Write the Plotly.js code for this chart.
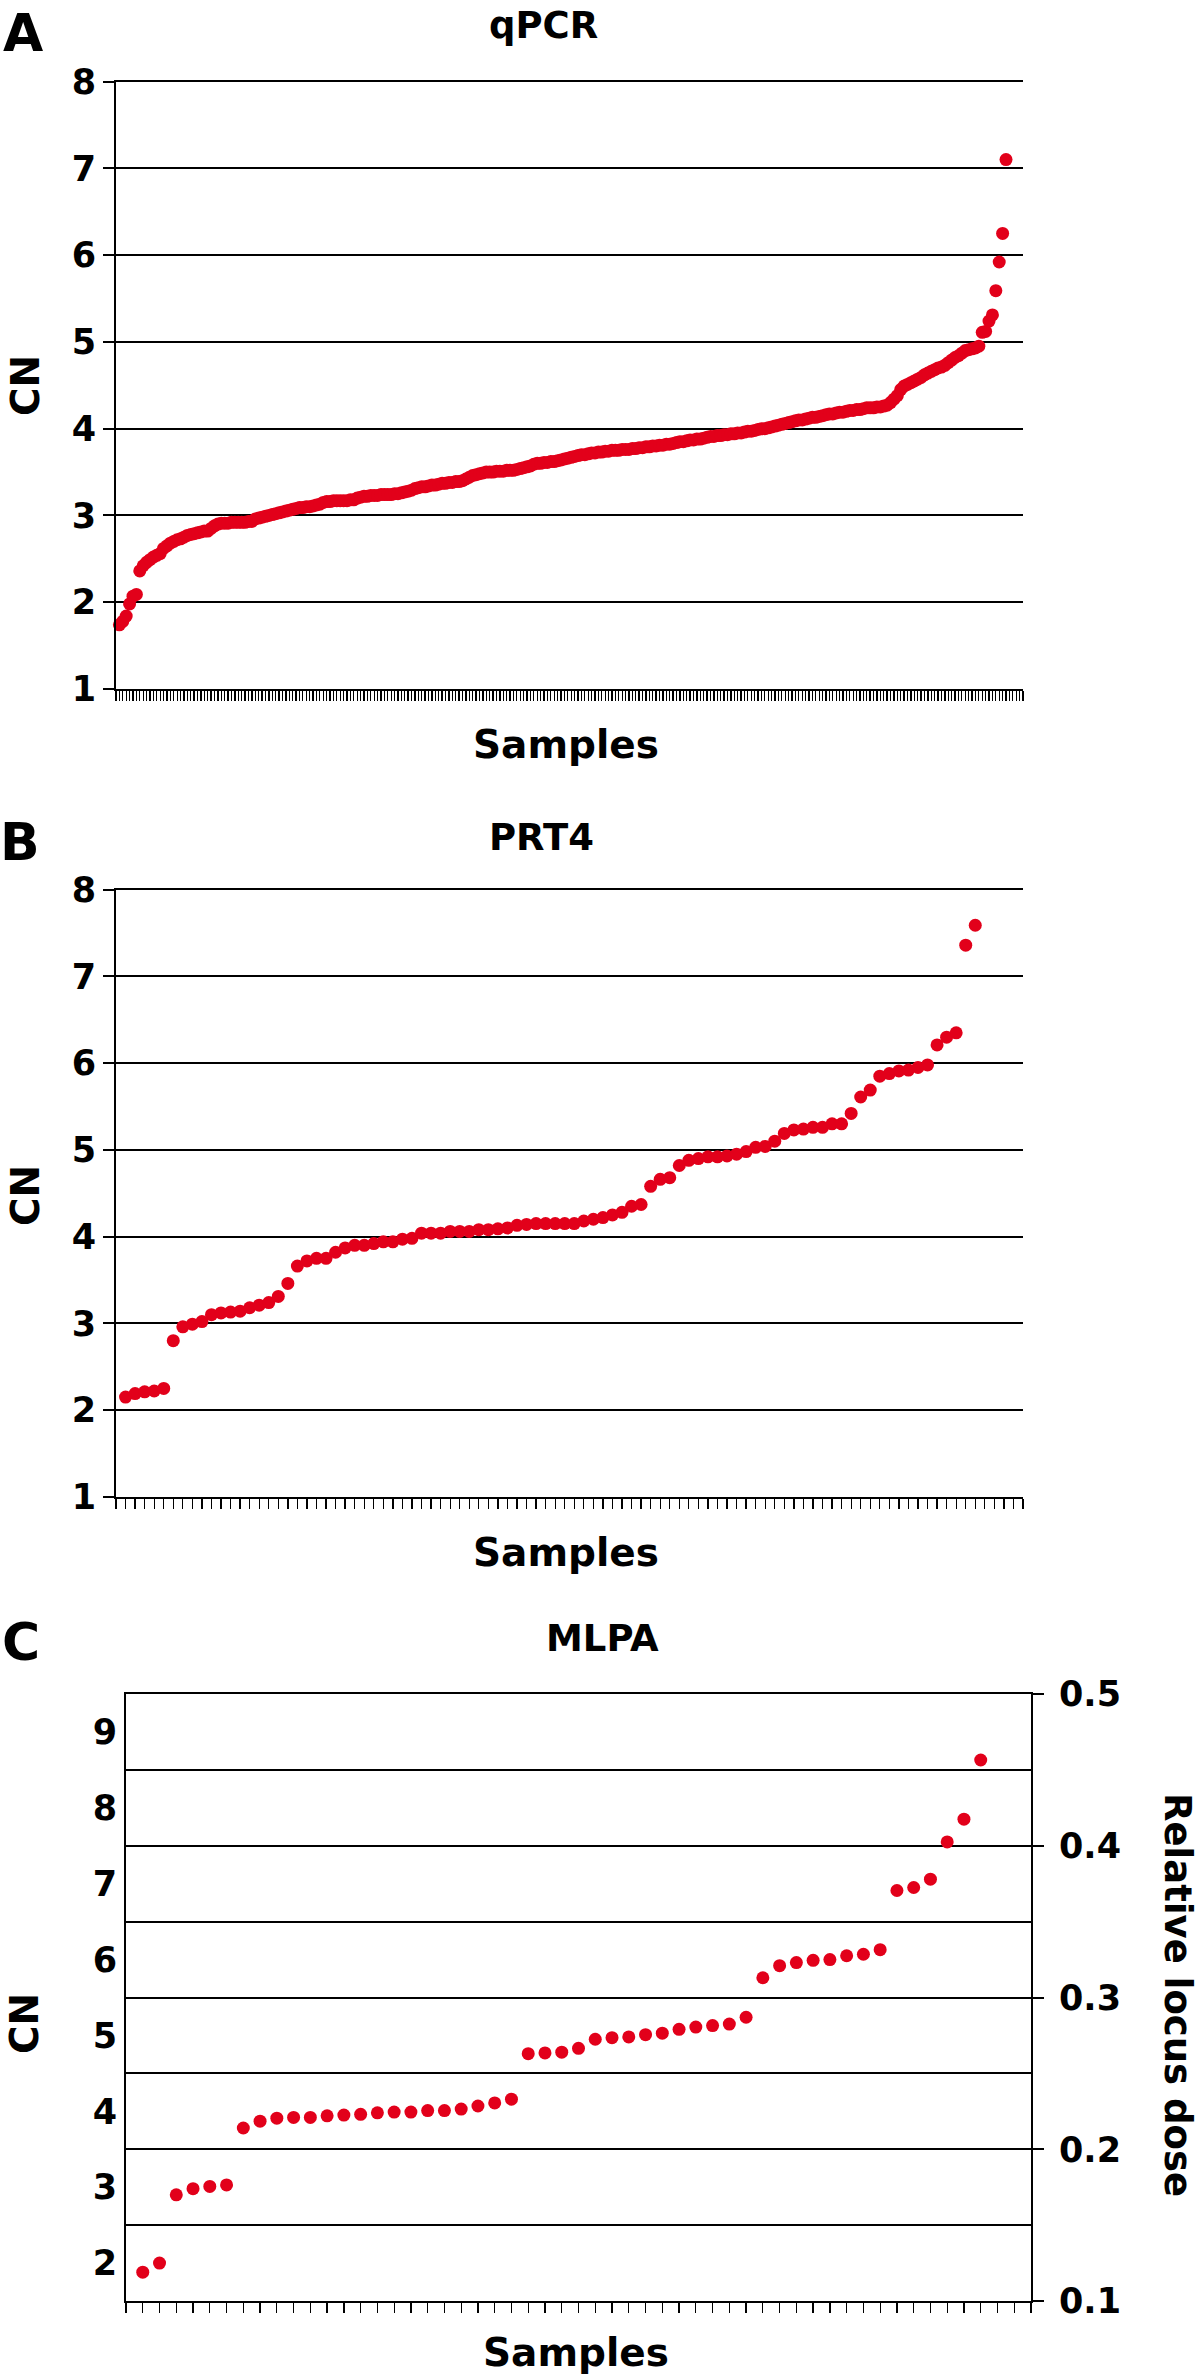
<!DOCTYPE html>
<html>
<head>
<meta charset="utf-8">
<script src="https://cdn.plot.ly/plotly-3.0.1.min.js"></script>
<style>html,body{margin:0;padding:0;background:#fff;}#chart{width:1200px;height:2375px;}</style>
</head>
<body>
<div id="chart"></div>
<script>
// ---- Data ----
const panelTitles = ["qPCR", "PRT4", "MLPA"];
const panelLetters = ["A", "B", "C"];
const xAxisTitle = "Samples";
const yAxisTitle = "CN";
const y2AxisTitle = "Relative locus dose";

// Panel A: qPCR copy number, sorted samples
const qpcrCN = [
  1.74, 1.78, 1.84, 1.98, 2.07, 2.09, 2.36, 2.42, 2.46, 2.49,
  2.52, 2.54, 2.56, 2.62, 2.65, 2.68, 2.70, 2.72, 2.73, 2.75,
  2.77, 2.78, 2.79, 2.80, 2.81, 2.82, 2.82, 2.85, 2.88, 2.90,
  2.91, 2.91, 2.91, 2.92, 2.92, 2.92, 2.92, 2.92, 2.93, 2.93,
  2.96, 2.97, 2.98, 2.99, 3.00, 3.01, 3.02, 3.03, 3.04, 3.05,
  3.06, 3.07, 3.08, 3.09, 3.09, 3.10, 3.10, 3.11, 3.12, 3.13,
  3.15, 3.16, 3.16, 3.17, 3.17, 3.17, 3.17, 3.17, 3.18, 3.18,
  3.20, 3.21, 3.22, 3.22, 3.23, 3.23, 3.23, 3.24, 3.24, 3.24,
  3.24, 3.25, 3.25, 3.26, 3.27, 3.28, 3.29, 3.31, 3.32, 3.33,
  3.33, 3.34, 3.35, 3.35, 3.36, 3.37, 3.37, 3.38, 3.38, 3.39,
  3.39, 3.40, 3.42, 3.44, 3.46, 3.47, 3.48, 3.49, 3.50, 3.50,
  3.50, 3.51, 3.51, 3.51, 3.52, 3.52, 3.52, 3.53, 3.54, 3.55,
  3.56, 3.57, 3.59, 3.60, 3.60, 3.61, 3.61, 3.62, 3.62, 3.63,
  3.64, 3.65, 3.66, 3.67, 3.68, 3.69, 3.70, 3.70, 3.71, 3.72,
  3.72, 3.73, 3.73, 3.74, 3.74, 3.75, 3.75, 3.75, 3.76, 3.76,
  3.76, 3.77, 3.77, 3.78, 3.78, 3.79, 3.79, 3.80, 3.80, 3.81,
  3.81, 3.82, 3.82, 3.83, 3.84, 3.85, 3.85, 3.86, 3.87, 3.87,
  3.88, 3.88, 3.89, 3.90, 3.91, 3.91, 3.92, 3.92, 3.93, 3.93,
  3.94, 3.94, 3.95, 3.95, 3.96, 3.97, 3.97, 3.98, 3.99, 4.00,
  4.00, 4.01, 4.02, 4.03, 4.04, 4.05, 4.06, 4.07, 4.08, 4.09,
  4.10, 4.10, 4.11, 4.12, 4.13, 4.13, 4.14, 4.15, 4.16, 4.17,
  4.17, 4.18, 4.19, 4.19, 4.20, 4.21, 4.21, 4.22, 4.22, 4.23,
  4.24, 4.24, 4.24, 4.25, 4.25, 4.26, 4.27, 4.30, 4.34, 4.38,
  4.45, 4.49, 4.51, 4.53, 4.55, 4.57, 4.59, 4.62, 4.64, 4.66,
  4.68, 4.70, 4.71, 4.73, 4.76, 4.79, 4.82, 4.84, 4.87, 4.90,
  4.91, 4.92, 4.93, 4.95, 5.11, 5.12, 5.24, 5.31, 5.59, 5.92, 6.25, 7.10
];
const qpcrSlots = 267;

// Panel B: PRT4 copy number
const prt4CN = [
  2.15, 2.19, 2.21, 2.22, 2.25, 2.80, 2.96, 2.99, 3.02, 3.10,
  3.12, 3.13, 3.14, 3.18, 3.21, 3.24, 3.31, 3.46, 3.66, 3.72,
  3.75, 3.75, 3.82, 3.87, 3.90, 3.90, 3.92, 3.94, 3.94, 3.97,
  3.98, 4.04, 4.04, 4.04, 4.06, 4.06, 4.06, 4.08, 4.08, 4.09,
  4.10, 4.13, 4.14, 4.15, 4.15, 4.15, 4.15, 4.15, 4.18, 4.20,
  4.22, 4.25, 4.28, 4.35, 4.37, 4.58, 4.66, 4.68, 4.82, 4.88,
  4.90, 4.92, 4.92, 4.93, 4.95, 4.98, 5.03, 5.04, 5.10, 5.19,
  5.23, 5.24, 5.26, 5.26, 5.30, 5.30, 5.42, 5.61, 5.69, 5.85,
  5.88, 5.91, 5.92, 5.95, 5.98, 6.21, 6.30, 6.35, 7.36, 7.59
];
const prt4Slots = 95;

// Panel C: MLPA copy number (CN = 20 * relative locus dose - 0.5)
const mlpaCN = [
  1.88, 2.00, 2.90, 2.98, 3.01, 3.03, 3.78, 3.87, 3.91, 3.92,
  3.92, 3.94, 3.95, 3.96, 3.98, 3.99, 3.99, 4.01, 4.01, 4.03,
  4.07, 4.11, 4.16, 4.76, 4.77, 4.78, 4.83, 4.95, 4.97, 4.98,
  5.01, 5.03, 5.08, 5.11, 5.13, 5.15, 5.24, 5.76, 5.92, 5.96,
  5.99, 6.00, 6.05, 6.07, 6.13, 6.91, 6.95, 7.06, 7.55, 7.85, 8.63
];
const mlpaSlots = 54;

const cnTicks = [1, 2, 3, 4, 5, 6, 7, 8];
const mlpaCnTicks = [2, 3, 4, 5, 6, 7, 8, 9];
const doseTicks = [0.1, 0.2, 0.3, 0.4, 0.5];
const doseTickText = ["0.1", "0.2", "0.3", "0.4", "0.5"];
const doseMinorGrid = [0.15, 0.25, 0.35, 0.45];

// ---- Build ----
const W = 1200, H = 2375;
const RED = "#e2001a";
const FONT = "DejaVu Sans";
const px = v => v / W;
const py = v => 1 - v / H;
const idx = arr => arr.map((_, i) => i + 1);
const cnToDose = cn => (cn + 0.5) / 20;

function scatter(y, xa, ya, visible) {
  return {
    type: "scatter", mode: "markers", x: idx(y), y: y,
    xaxis: xa, yaxis: ya, hoverinfo: "y",
    marker: { color: RED, size: 13, opacity: visible ? 1 : 0, line: { width: 0 } },
    showlegend: false, cliponaxis: false
  };
}

const tickFont = { family: FONT, size: 35, color: "#000", weight: "bold" };

function xAx(domain, slots, anchor) {
  return {
    domain: domain, anchor: anchor, range: [0, slots], tickmode: "linear", tick0: 0, dtick: 1,
    ticks: "outside", ticklen: 10, tickwidth: 1.3, tickcolor: "#000",
    showticklabels: false, showgrid: false, zeroline: false,
    showline: true, mirror: true, linecolor: "#000", linewidth: 2, fixedrange: true
  };
}
function yAx(domain, anchor) {
  return {
    domain: domain, anchor: anchor, range: [1, 8], tickmode: "array", tickvals: cnTicks,
    ticks: "outside", ticklen: 11, tickwidth: 2, tickcolor: "#000",
    showgrid: true, gridcolor: "#000", gridwidth: 2, zeroline: false,
    showline: true, linecolor: "#000", linewidth: 2,
    tickfont: tickFont, fixedrange: true
  };
}

const data = [
  scatter(qpcrCN, "x", "y", true),
  scatter(prt4CN, "x2", "y2", true),
  scatter(mlpaCN, "x3", "y3", false),
  scatter(mlpaCN.map(cnToDose), "x3", "y4", true)
];

const domA = [py(689), py(81.5)];
const domB = [py(1496.8), py(889.7)];
const domC = [py(2301), py(1694)];

const layout = {
  width: W, height: H, margin: { l: 0, r: 0, t: 0, b: 0 },
  paper_bgcolor: "#fff", plot_bgcolor: "rgba(0,0,0,0)",
  showlegend: false,
  font: { family: FONT, color: "#000" },
  xaxis: xAx([px(116), px(1023)], qpcrSlots, "y"),
  yaxis: yAx(domA, "x"),
  xaxis2: xAx([px(116), px(1023)], prt4Slots, "y2"),
  yaxis2: yAx(domB, "x2"),
  xaxis3: xAx([px(126), px(1031)], mlpaSlots, "y3"),
  yaxis3: {
    domain: domC, anchor: "x3", range: [1.5, 9.5], tickmode: "array", tickvals: mlpaCnTicks,
    ticks: "", showgrid: false, zeroline: false,
    showline: true, linecolor: "#000", linewidth: 2, tickfont: tickFont, fixedrange: true
  },
  yaxis4: {
    overlaying: "y3", anchor: "x3", side: "right", range: [0.1, 0.5],
    tickmode: "array", tickvals: doseTicks, ticktext: doseTickText,
    ticks: "outside", ticklen: 11, tickwidth: 2, tickcolor: "#000", ticklabelstandoff: 8,
    showgrid: true, gridcolor: "#000", gridwidth: 2, zeroline: false,
    minor: { tickmode: "array", tickvals: doseMinorGrid, showgrid: true, gridcolor: "#000", gridwidth: 2, ticks: "" },
    showline: true, linecolor: "#000", linewidth: 2, tickfont: tickFont, fixedrange: true
  },
  annotations: []
};

function ann(text, x, y, size, angle) {
  layout.annotations.push({
    text: text, xref: "paper", yref: "paper", x: px(x), y: py(y),
    xanchor: "center", yanchor: "middle", showarrow: false, textangle: angle || 0,
    borderpad: 0,
    font: { family: FONT, size: size, color: "#000", weight: "bold" }
  });
}

// panel letters
ann(panelLetters[0], 23, 33, 52);
ann(panelLetters[1], 20, 842, 52);
ann(panelLetters[2], 21, 1642, 52);
// titles
ann(panelTitles[0], 543, 26, 37);
ann(panelTitles[1], 541, 837, 37);
ann(panelTitles[2], 602, 1638, 37);
// y titles
ann(yAxisTitle, 26, 386, 39, -90);
ann(yAxisTitle, 25, 1196, 39, -90);
ann(yAxisTitle, 25, 2024, 39, -90);
ann(y2AxisTitle, 1178, 1995, 37, 90);
// x titles
ann(xAxisTitle, 566, 744, 39);
ann(xAxisTitle, 566, 1552, 39);
ann(xAxisTitle, 576, 2352, 39);

Plotly.newPlot("chart", data, layout, { staticPlot: true, displayModeBar: false });
</script>
</body>
</html>
